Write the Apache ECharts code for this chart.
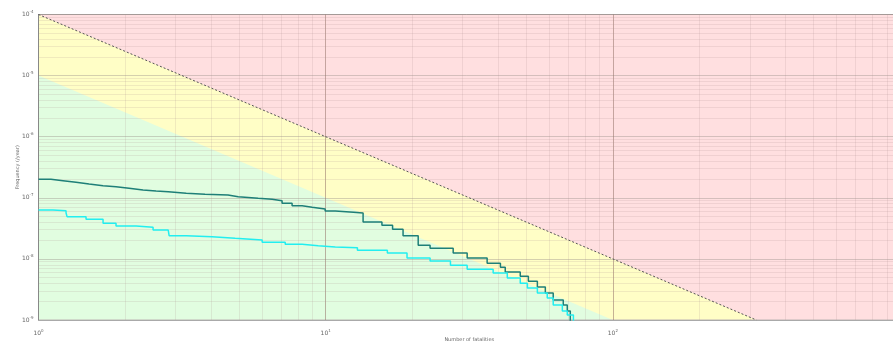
<!DOCTYPE html>
<html>
<head>
<meta charset="utf-8">
<script src="https://cdn.jsdelivr.net/npm/echarts@6/dist/echarts.min.js"></script>
<style>html,body{margin:0;padding:0;background:#fff;}#c{width:893px;height:341px;}</style>
</head>
<body>
<div id="c"></div>
<script>
// Step curve 1 (dark teal): fatalities N and cumulative frequency F (/year)
const curve1N = [1, 1.105, 1.217, 1.351, 1.50, 1.678, 1.862, 2.067, 2.312, 2.567, 2.83, 3.27, 3.80, 4.57, 4.96, 5.82, 6.51, 7.05, 7.64, 8.28, 8.97, 9.96, 10.8, 12.5, 13.5, 15.7, 17.1, 18.6, 21.0, 23.1, 27.8, 31.1, 36.5, 40.6, 42.2, 47.6, 50.8, 54.6, 58.2, 62.0, 67.2, 69.4, 71.1];
const curve1F = [2.01e-7, 1.90e-7, 1.79e-7, 1.68e-7, 1.58e-7, 1.52e-7, 1.43e-7, 1.34e-7, 1.29e-7, 1.26e-7, 1.19e-7, 1.14e-7, 1.11e-7, 1.04e-7, 9.8e-8, 9.45e-8, 8.97e-8, 8.13e-8, 7.43e-8, 7.0e-8, 6.56e-8, 6.08e-8, 5.79e-8, 5.64e-8, 4.0e-8, 3.56e-8, 3.07e-8, 2.4e-8, 1.68e-8, 1.50e-8, 1.25e-8, 1.03e-8, 8.5e-9, 7.3e-9, 6.1e-9, 5.2e-9, 4.3e-9, 3.46e-9, 2.76e-9, 2.12e-9, 1.76e-9, 1.40e-9, 1e-10];
// Step curve 2 (cyan)
const curve2N = [1, 1.123, 1.247, 1.257, 1.464, 1.678, 1.862, 2.187, 2.506, 2.83, 2.85, 3.27, 4.02, 4.84, 6.01, 7.23, 8.28, 9.42, 10.8, 12.9, 16.4, 19.2, 23.1, 27.2, 31.1, 38.3, 42.9, 47.6, 50.4, 54.6, 59.1, 62.0, 66.7, 69.4, 72.9];
const curve2F = [6.31e-8, 6.15e-8, 5.70e-8, 4.91e-8, 4.45e-8, 3.83e-8, 3.45e-8, 3.29e-8, 2.97e-8, 2.79e-8, 2.40e-8, 2.31e-8, 2.17e-8, 2.04e-8, 1.87e-8, 1.73e-8, 1.64e-8, 1.57e-8, 1.52e-8, 1.39e-8, 1.25e-8, 1.03e-8, 9.2e-9, 7.9e-9, 6.8e-9, 5.9e-9, 4.85e-9, 4.0e-9, 3.33e-9, 2.76e-9, 2.29e-9, 1.76e-9, 1.40e-9, 1.21e-9, 1e-10];
// Criterion lines
const upperLimitN = [1, 316.2];
const upperLimitF = [1e-4, 1e-9];
const lowerLimitN = [1, 100];
const lowerLimitF = [1e-5, 1e-9];
const regionN = [1, 1000];
const regionF = [1e-4, 1e-4];
// Axes
const xMin = 1, xMax = 1000;
const yMin = 1e-9, yMax = 1e-4;
const xDecades = [1, 10, 100];
const yDecades = [1e-9, 1e-8, 1e-7, 1e-6, 1e-5];
const minorMult = [2, 3, 4, 5, 6, 7, 8, 9];
const xTitle = 'Number of fatalities';
const yTitle = 'Frequency (/year)';

const zip = (a, b) => a.map((v, i) => [v, b[i]]);
const minorLines = [];
xDecades.forEach(d => minorMult.forEach(m => {
  const v = +(d * m).toPrecision(3);
  minorLines.push([{ coord: [v, yMin] }, { coord: [v, yMax] }]);
}));
yDecades.forEach(d => minorMult.forEach(m => {
  const v = +(d * m).toPrecision(3);
  minorLines.push([{ coord: [xMin, v] }, { coord: [xMax, v] }]);
}));

const expLabel = v => {
  const e = Math.round(Math.log10(v));
  return '{b|10}{s|' + e + '}';
};
const rich = {
  b: { fontSize: 6, color: '#666', fontFamily: 'DejaVu Sans' },
  s: { fontSize: 4, color: '#666', fontFamily: 'DejaVu Sans', padding: [0, 0, 5, 0] }
};

const chart = echarts.init(document.getElementById('c'), null, { renderer: 'canvas' });
chart.setOption({
  animation: false,
  backgroundColor: '#fff',
  grid: { left: 38.5, right: -7, top: 14.5, bottom: 21, containLabel: false, outerBoundsMode: 'none',
          show: true, borderColor: '#bcb4b4', borderWidth: 1, backgroundColor: 'transparent' },
  xAxis: {
    type: 'log', logBase: 10, min: xMin, max: xMax,
    name: xTitle, nameLocation: 'middle', nameGap: 17, nameMoveOverlap: false,
    nameTextStyle: { fontSize: 5, color: '#666', fontFamily: 'DejaVu Sans' },
    axisLine: { show: true, lineStyle: { color: '#aaa', width: 1 } },
    axisTick: { show: false },
    axisLabel: { formatter: expLabel, rich: rich, margin: 9 },
    splitLine: { show: true, lineStyle: { color: 'rgba(150,115,105,0.55)', width: 1 } }
  },
  yAxis: {
    type: 'log', logBase: 10, min: yMin, max: yMax,
    name: yTitle, nameLocation: 'middle', nameGap: 18, nameMoveOverlap: false,
    nameTextStyle: { fontSize: 5, color: '#666', fontFamily: 'DejaVu Sans' },
    axisLine: { show: true, lineStyle: { color: '#888', width: 1 } },
    axisTick: { show: false },
    axisLabel: { formatter: expLabel, rich: rich, margin: 5 },
    splitLine: { show: true, lineStyle: { color: 'rgba(150,140,135,0.4)', width: 1 } }
  },
  series: [
    {
      type: 'line', silent: true, z: -3, symbol: 'none',
      data: zip(regionN, regionF),
      lineStyle: { width: 0 },
      areaStyle: { origin: 'start', color: '#ffdfe0', opacity: 1 }
    },
    {
      type: 'line', silent: true, z: -2, symbol: 'none',
      data: zip(upperLimitN, upperLimitF),
      lineStyle: { width: 0 },
      areaStyle: { origin: 'start', color: '#fffec6', opacity: 1 }
    },
    {
      type: 'line', silent: true, z: -1, symbol: 'none',
      data: zip(lowerLimitN, lowerLimitF),
      lineStyle: { width: 0 },
      areaStyle: { origin: 'start', color: '#e1fde0', opacity: 1 }
    },
    {
      type: 'line', silent: true, z: 1, symbol: 'none', data: [],
      markLine: {
        silent: true, symbol: 'none', z: 1, animation: false,
        label: { show: false },
        lineStyle: { color: 'rgba(170,145,145,0.18)', width: 1, type: 'solid' },
        emphasis: { disabled: true },
        data: minorLines
      }
    },
    {
      type: 'line', silent: true, z: 8, symbol: 'none',
      data: zip(upperLimitN, upperLimitF),
      lineStyle: { color: '#555', width: 1, type: [2, 2] }
    },
    {
      type: 'line', silent: true, z: 10, symbol: 'none', step: 'end',
      data: zip(curve1N, curve1F),
      lineStyle: { color: '#1e7f78', width: 1.5 }
    },
    {
      type: 'line', silent: true, z: 11, symbol: 'none', step: 'end',
      data: zip(curve2N, curve2F),
      lineStyle: { color: '#22eef0', width: 1.5 }
    }
  ]
});
</script>
</body>
</html>
